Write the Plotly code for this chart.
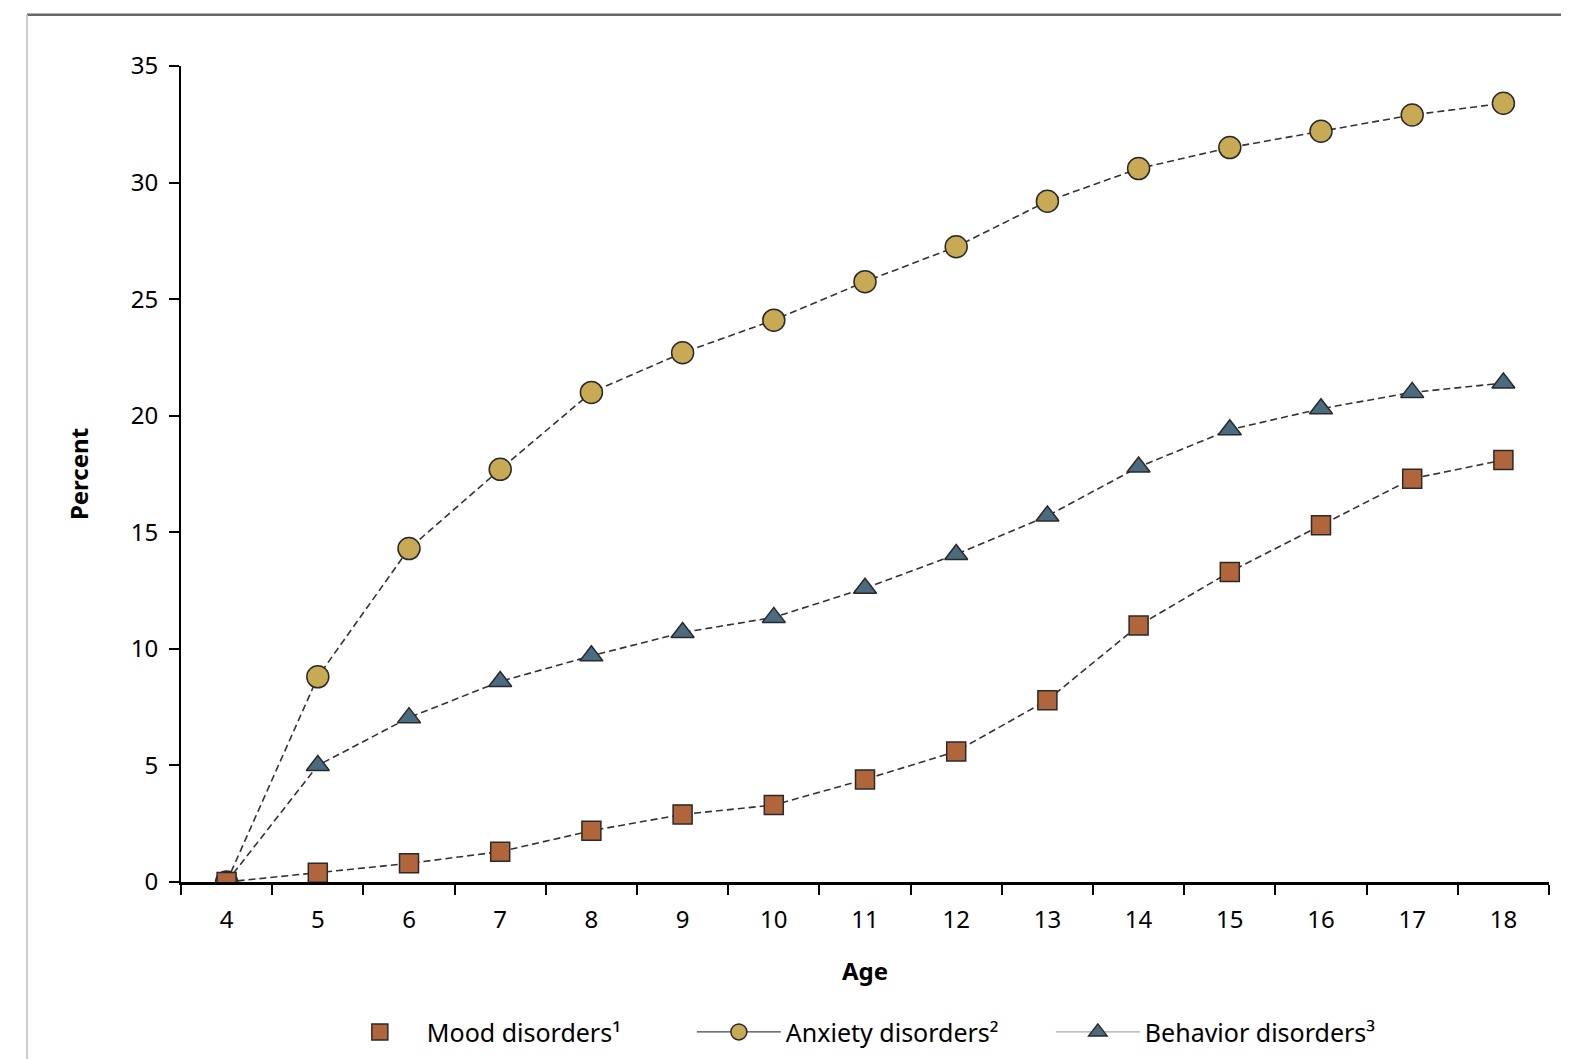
import plotly.graph_objects as go

ages = [4, 5, 6, 7, 8, 9, 10, 11, 12, 13, 14, 15, 16, 17, 18]
mood = [0, 0.4, 0.8, 1.3, 2.2, 2.9, 3.3, 4.4, 5.6, 7.8, 11.0, 13.3, 15.3, 17.3, 18.1]
anxiety = [0, 8.8, 14.3, 17.7, 21.0, 22.7, 24.1, 25.75, 27.25, 29.2, 30.6, 31.5, 32.2, 32.9, 33.4]
behavior = [0, 5.0, 7.05, 8.6, 9.7, 10.7, 11.35, 12.6, 14.05, 15.7, 17.8, 19.4, 20.3, 21.0, 21.4]
y_ticks = [0, 5, 10, 15, 20, 25, 30, 35]

FONT = "Noto Sans, Liberation Sans, Arial"
line_style = dict(color="#333333", width=1.6, dash="7px,4px")
outline = dict(color="#2a2a2a", width=1.5)

MOOD_C = "#b0653a"
ANX_C = "#c8aa55"
BEH_C = "#4a6b80"

fig = go.Figure()
# data traces
fig.add_trace(go.Scatter(x=ages, y=anxiety, mode="lines+markers", name="Anxiety disorders²",
                         line=line_style, showlegend=False,
                         marker=dict(symbol="circle", size=22, color=ANX_C, line=outline)))
fig.add_trace(go.Scatter(x=ages, y=behavior, mode="lines+markers", name="Behavior disorders³",
                         line=line_style, showlegend=False,
                         marker=dict(symbol="triangle-up", size=20, color=BEH_C, line=outline)))
fig.add_trace(go.Scatter(x=ages, y=mood, mode="lines+markers", name="Mood disorders¹",
                         line=line_style, showlegend=False,
                         marker=dict(symbol="square", size=19, color=MOOD_C, line=outline)))
# legend entries
fig.add_trace(go.Scatter(x=[None], y=[None], mode="markers", name="Mood disorders¹",
                         marker=dict(symbol="square", size=17, color=MOOD_C, line=outline)))
fig.add_trace(go.Scatter(x=[None], y=[None], mode="lines+markers", name="Anxiety disorders²",
                         line=dict(color="#444444", width=1.4),
                         marker=dict(symbol="circle", size=20, color=ANX_C, line=outline)))
fig.add_trace(go.Scatter(x=[None], y=[None], mode="lines+markers", name="Behavior disorders³",
                         line=dict(color="#aaaaaa", width=1.4),
                         marker=dict(symbol="triangle-up", size=18, color=BEH_C, line=outline)))

fig.update_layout(
    width=1569, height=1059,
    margin=dict(l=173, r=28, t=58, b=169),
    paper_bgcolor="white", plot_bgcolor="white",
    font=dict(family=FONT, size=24, color="black"),
    showlegend=True,
    legend=dict(orientation="h", x=0.111, xanchor="left", y=-0.184, yanchor="middle",
                font=dict(family=FONT, size=25, color="black"),
                entrywidth=260, entrywidthmode="pixels", itemwidth=84,
                tracegroupgap=0),
    xaxis=dict(range=[3.5, 18.5], tickvals=ages, ticktext=[str(a) for a in ages],
               ticks="", showgrid=False, zeroline=False, showline=True,
               linecolor="black", linewidth=2.5, ticklabelstandoff=14,
               tickfont=dict(family=FONT, size=24),
               minor=dict(tick0=3.5, dtick=1, ticks="outside", ticklen=10, tickwidth=1.5,
                          tickcolor="black", showgrid=False),
               title=dict(text="<b>Age</b>", font=dict(family=FONT, size=24), standoff=30),
               fixedrange=True),
    yaxis=dict(range=[0, 35], tickvals=y_ticks, ticks="outside", ticklen=10, tickwidth=2,
               tickcolor="black", showgrid=False, zeroline=False, showline=True,
               linecolor="black", linewidth=2, ticklabelstandoff=6,
               tickfont=dict(family=FONT, size=24),
               title=dict(text="<b>Percent</b>", font=dict(family=FONT, size=24), standoff=35),
               fixedrange=True),
    shapes=[
        dict(type="line", xref="paper", yref="paper", x0=-0.1126, x1=1.03, y0=1.0627, y1=1.0627,
             line=dict(color="#666666", width=2.5)),
        dict(type="line", xref="paper", yref="paper", x0=-0.1126, x1=-0.1126, y0=1.0627, y1=-0.25,
             line=dict(color="#cccccc", width=2)),
    ],
)

fig.write_html("out.html")
